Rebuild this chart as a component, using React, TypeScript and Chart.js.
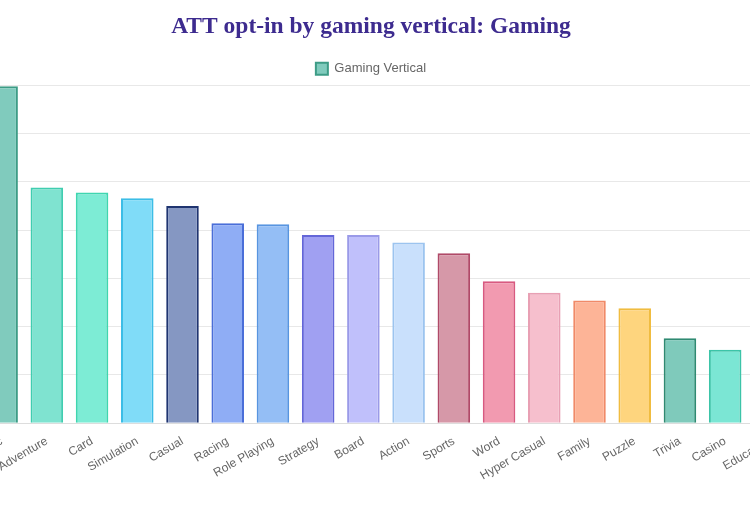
import React, { useEffect, useRef } from "react";
import { Chart, registerables } from "chart.js";

Chart.register(...registerables);

const categories = [
  "Music", "Adventure", "Card", "Simulation", "Casual", "Racing", "Role Playing",
  "Strategy", "Board", "Action", "Sports", "Word", "Hyper Casual", "Family",
  "Puzzle", "Trivia", "Casino", "Education",
];
const optInValues = [
  34.9, 24.4, 23.9, 23.3, 22.5, 20.7, 20.6, 19.5, 19.5, 18.7, 17.6, 14.7, 13.5,
  12.7, 11.9, 8.8, 7.6, 7.0,
];
const barColors = [
  "#80cbbd", "#7fe3d0", "#7decd5", "#80dcf8", "#8597c2", "#8fadf5", "#94bef5",
  "#a0a0f2", "#c0c0fb", "#c9e0fc", "#d698a8", "#f29ab0", "#f6bfcd", "#fdb497",
  "#fed57e", "#7fcabb", "#7be6d4", "#8fd0ff",
];
const borderColors = [
  "#3d9c86", "#40cdb0", "#3fd6b0", "#3cbde6", "#1f3470", "#4a6ed8", "#5895e0",
  "#6466d8", "#9a9ae8", "#9cc4ef", "#b04a68", "#d85a80", "#e8a0b4", "#f08a68",
  "#f0bc40", "#2f8a72", "#3cc4a8", "#4aa8e8",
];
const yMin = 0;
const yMax = 35;
const yStep = 5;

export default function App() {
  const ref = useRef<HTMLCanvasElement>(null);
  useEffect(() => {
    if (!ref.current) return;
    const chart = new Chart(ref.current, {
      type: "bar",
      data: {
        labels: categories,
        datasets: [
          {
            label: "Gaming Vertical",
            data: optInValues,
            backgroundColor: barColors,
            borderColor: borderColors,
            borderWidth: 2,
          },
        ],
      },
      options: {
        animation: false,
        responsive: true,
        maintainAspectRatio: false,
        layout: { padding: 0 },
        plugins: {
          title: {
            display: true,
            text: "ATT opt-in by gaming vertical: Gaming",
            color: "#3d2b8f",
            font: { family: "'Liberation Serif', 'Times New Roman', serif", size: 23.5, weight: "bold" },
            padding: { top: 13, bottom: 11 },
          },
          legend: {
            display: true,
            labels: {
              boxWidth: 12,
              boxHeight: 12,
              padding: 10,
              color: "#666",
              font: { family: "'Liberation Sans', Arial, sans-serif", size: 13 },
            },
          },
          tooltip: { enabled: false },
        },
        scales: {
          x: {
            grid: { display: false },
            border: { color: "#ddd" },
            ticks: {
              minRotation: 30,
              maxRotation: 30,
              color: "#666",
              font: { family: "'Liberation Sans', Arial, sans-serif", size: 12 },
            },
          },
          y: {
            min: yMin,
            max: yMax,
            ticks: { stepSize: yStep, color: "#666" },
            grid: { color: "#e8e8e8" },
            border: { display: false },
            afterFit: (axis: any) => {
              axis.width = 30;
            },
          },
        },
      },
    });
    return () => chart.destroy();
  }, []);
  return (
    <div style={{ position: "absolute", left: 0, top: 0, width: 750, height: 516, overflow: "hidden", background: "#fff" }}>
      <div style={{ position: "absolute", left: -51, top: 0, width: 844, height: 486 }}>
        <canvas ref={ref} />
      </div>
    </div>
  );
}
